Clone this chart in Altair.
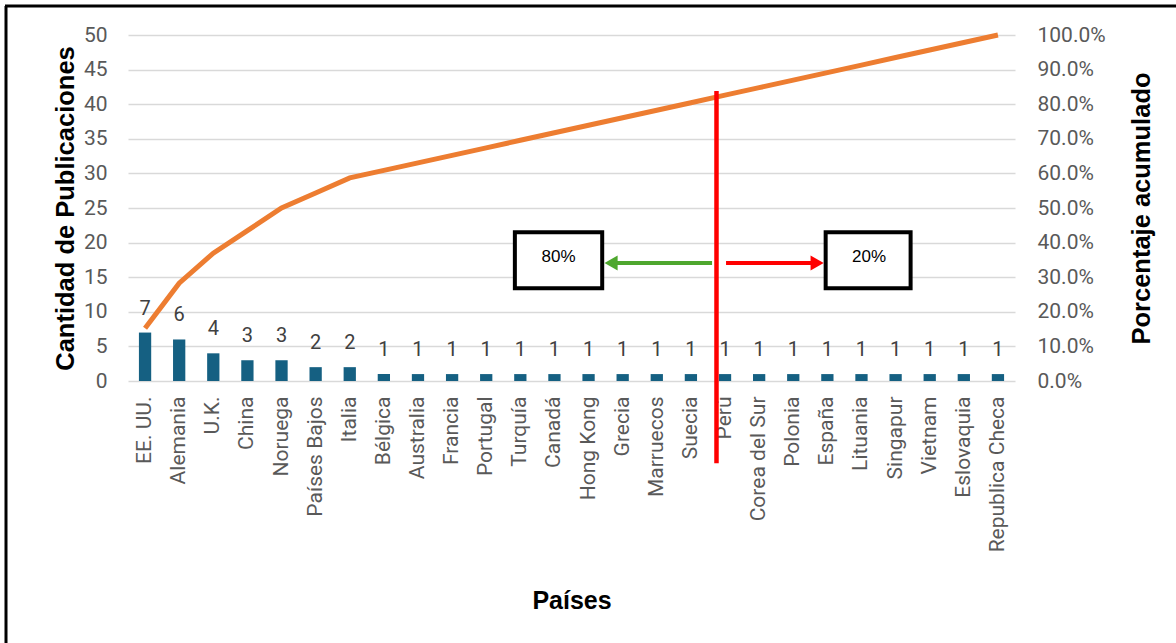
import altair as alt
import pandas as pd

# ---------------- data ----------------
paises = ["EE. UU.", "Alemania", "U.K.", "China", "Noruega", "Países Bajos", "Italia",
          "Bélgica", "Australia", "Francia", "Portugal", "Turquía", "Canadá", "Hong Kong",
          "Grecia", "Marruecos", "Suecia", "Perú", "Corea del Sur", "Polonia", "España",
          "Lituania", "Singapur", "Vietnam", "Eslovaquia", "Republica Checa"]
publicaciones = [7, 6, 4, 3, 3, 2, 2, 1, 1, 1, 1, 1, 1, 1, 1, 1, 1, 1, 1, 1, 1, 1, 1, 1, 1, 1]
y_ticks = [0, 5, 10, 15, 20, 25, 30, 35, 40, 45, 50]
pct_ticks = [0.0, 0.1, 0.2, 0.3, 0.4, 0.5, 0.6, 0.7, 0.8, 0.9, 1.0]
box_labels = ["80%", "20%"]

df = pd.DataFrame({"pais": paises, "n": publicaciones, "orden": list(range(len(paises)))})

# ---------------- style ----------------
W, H = 887, 346
LABEL_FONT = "Roboto"
TITLE_FONT = "Liberation Sans"
GREY = "#595959"

xscale = alt.Scale(domain=paises, paddingInner=0, paddingOuter=0)
yscale = alt.Scale(domain=[0, 50], nice=False)

# the same x axis definition is given to every layer so that the shared axis merges cleanly
XAXIS = alt.Axis(
    title="Países", labelAngle=-90, labelFont=LABEL_FONT, labelFontSize=21,
    labelColor=GREY, labelPadding=15, ticks=False, domain=False, grid=False,
    titleFont=TITLE_FONT, titleFontSize=25, titleFontWeight="bold", titleColor="black",
    titleY=219, titleBaseline="middle")


def xenc(field, bp=None):
    if bp is None:
        return alt.X(field, type="nominal", scale=xscale, axis=XAXIS)
    return alt.X(field, type="nominal", scale=xscale, bandPosition=bp, axis=XAXIS)


base = alt.Chart(df)

bars = base.mark_bar(color="#156082", width=alt.RelativeBandSize(0.36)).encode(
    x=xenc("pais"),
    y=alt.Y("n:Q", scale=yscale, axis=alt.Axis(
        values=y_ticks, title="Cantidad de Publicaciones", labelFont=LABEL_FONT,
        labelFontSize=21, labelColor=GREY, labelPadding=21, ticks=False, domain=False,
        grid=True, gridColor="#D9D9D9", gridWidth=1.6,
        titleFont=TITLE_FONT, titleFontSize=25.5, titleFontWeight="bold", titleColor="black",
        titleAngle=270, titleX=-63, titleY=H / 2, titleBaseline="middle", titleAlign="center")),
)

labels = base.mark_text(font=LABEL_FONT, fontSize=20, color="#404040", baseline="middle", dy=-24).encode(
    x=xenc("pais"),
    y=alt.Y("n:Q", scale=yscale, axis=None),
    text="n:Q",
)

line = base.transform_window(
    acum="sum(n)", sort=[alt.SortField("orden")], frame=[None, 0]
).transform_joinaggregate(
    total="sum(n)"
).transform_calculate(
    pct="datum.acum / datum.total"
).mark_line(color="#ED7D31", strokeWidth=5).encode(
    x=xenc("pais"),
    y=alt.Y("pct:Q", scale=alt.Scale(domain=[0, 1], nice=False), axis=alt.Axis(
        orient="right", values=pct_ticks, format=".1%", labelFont=LABEL_FONT, labelFontSize=21,
        labelColor=GREY, labelPadding=22, ticks=False, domain=False, grid=False,
        title="Porcentaje acumulado", titleFont=TITLE_FONT, titleFontSize=25.5,
        titleFontWeight="bold", titleColor="black", titleAngle=270, titleX=126,
        titleY=H / 2, titleBaseline="middle", titleAlign="center")),
    order="orden:Q",
)


# ---------------- annotations (anchored to categories) ----------------
def one(**kw):
    return alt.Chart(pd.DataFrame([kw]))


def box(c1, b1, c2, b2, y1, y2):
    return one(a=c1, b=c2, y1=y1, y2=y2).mark_rect(
        fill="white", stroke="black", strokeWidth=4).encode(
        x=xenc("a", b1), x2=alt.X2("b", bandPosition=b2),
        y=alt.Y("y1:Q", scale=yscale, axis=None), y2="y2:Q")


def seg(c1, b1, c2, b2, y1, y2, color, w):
    return one(a=c1, b=c2, y1=y1, y2=y2).mark_rule(color=color, strokeWidth=w).encode(
        x=xenc("a", b1), x2=alt.X2("b", bandPosition=b2),
        y=alt.Y("y1:Q", scale=yscale, axis=None), y2="y2:Q")


def head(c, b, yv, shape, color):
    return one(a=c, y=yv).mark_point(shape=shape, filled=True, opacity=1, color=color, size=230).encode(
        x=xenc("a", b), y=alt.Y("y:Q", scale=yscale, axis=None))


def label(c, b, yv, t):
    return one(a=c, y=yv, t=t).mark_text(font="Liberation Sans", fontSize=17, color="black").encode(
        x=xenc("a", b), y=alt.Y("y:Q", scale=yscale, axis=None), text="t:N")


ARROW_Y = 17.05
frame_left = one(k=1).mark_rule(color="black", strokeWidth=3).encode(
    x=alt.value(-122), y=alt.value(-29), y2=alt.value(610))
frame_top = one(k=1).mark_rule(color="black", strokeWidth=3).encode(
    x=alt.value(-123), x2=alt.value(1050), y=alt.value(-29))

chart = alt.layer(
    bars, labels, line,
    box("Turquía", 0.34, "Hong Kong", 0.9, 21.5, 13.4),
    box("España", 0.45, "Singapur", 0.94, 21.5, 13.4),
    label("Canadá", 0.62, 17.9, box_labels[0]),
    label("Lituania", 0.72, 17.9, box_labels[1]),
    seg("Perú", 0.12, "Grecia", 0.2, ARROW_Y, ARROW_Y, "#4EA72E", 4),
    head("Grecia", 0.16, ARROW_Y, "triangle-left", "#4EA72E"),
    seg("Perú", 0.53, "España", 0.05, ARROW_Y, ARROW_Y, "#FF0000", 4),
    head("España", 0.2, ARROW_Y, "triangle-right", "#FF0000"),
    seg("Perú", 0.25, "Perú", 0.25, 41.9, -11.9, "#FF0000", 4.5),
    frame_left, frame_top,
).resolve_scale(y="independent").properties(
    width=W, height=H,
    autosize=alt.AutoSizeParams(type="none"),
    padding={"left": 128, "top": 35, "right": 161, "bottom": 262},
    background="white",
).configure_view(stroke=None)

chart.save("out.html", embed_options={"renderer": "svg", "actions": False})
